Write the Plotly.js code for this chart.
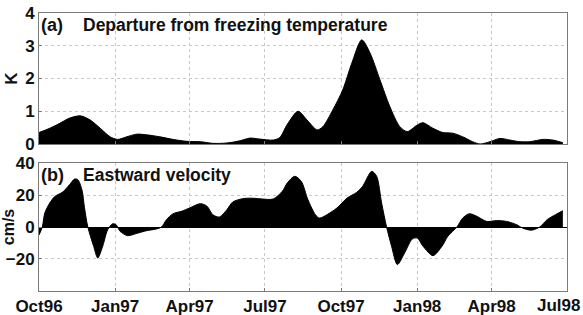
<!DOCTYPE html>
<html><head><meta charset="utf-8">
<script src="https://cdn.plot.ly/plotly-3.0.1.min.js"></script>
<style>html,body{margin:0;padding:0;background:#fff;}#chart{width:583px;height:315px;}</style>
</head><body><div id="chart"></div>
<script>
// Panel (a): departure from freezing temperature (K)
const tempDates = ['1996-10-01','1996-10-14','1996-10-26','1996-11-07','1996-11-20','1996-12-02','1996-12-14','1996-12-26',
 '1997-01-04','1997-01-15','1997-01-27','1997-02-08','1997-02-24','1997-03-12','1997-03-29','1997-04-14','1997-04-29',
 '1997-05-16','1997-06-01','1997-06-13','1997-06-25','1997-07-11','1997-07-19','1997-07-28','1997-08-10','1997-08-21',
 '1997-09-02','1997-09-09','1997-09-21','1997-10-03','1997-10-14','1997-10-26','1997-11-05','1997-11-17','1997-11-29',
 '1997-12-11','1997-12-20','1998-01-01','1998-01-08','1998-01-20','1998-02-01','1998-02-13','1998-02-25','1998-03-09',
 '1998-03-18','1998-03-30','1998-04-11','1998-04-23','1998-05-05','1998-05-17','1998-06-02','1998-06-14','1998-06-26'];
const tempK = [0.35,0.48,0.63,0.79,0.86,0.73,0.48,0.22,
 0.14,0.22,0.30,0.28,0.22,0.14,0.08,0.07,0.02,
 0.03,0.10,0.18,0.15,0.12,0.20,0.60,1.00,0.73,
 0.43,0.53,1.04,1.65,2.47,3.18,2.78,1.96,1.14,
 0.53,0.38,0.58,0.65,0.48,0.35,0.33,0.22,0.07,
 0.00,0.07,0.17,0.12,0.07,0.07,0.14,0.12,0.04];

// Panel (b): eastward velocity (cm/s)
const velDates = ['1996-10-01','1996-10-05','1996-10-08','1996-10-14','1996-10-20','1996-10-30','1996-11-07','1996-11-13',
 '1996-11-17','1996-11-22','1996-11-25','1996-11-29','1996-12-06','1996-12-11','1996-12-17','1996-12-23','1996-12-29',
 '1997-01-02','1997-01-07','1997-01-16','1997-01-27','1997-02-08','1997-02-20','1997-02-26','1997-03-04','1997-03-12',
 '1997-03-22','1997-04-01','1997-04-14','1997-04-22','1997-04-29','1997-05-07','1997-05-16','1997-05-23','1997-06-04',
 '1997-06-16','1997-06-28','1997-07-11','1997-07-22','1997-07-28','1997-08-06','1997-08-14','1997-08-22','1997-08-31',
 '1997-09-05','1997-09-14','1997-09-26','1997-10-08','1997-10-20','1997-10-27','1997-11-07','1997-11-13','1997-11-19',
 '1997-11-25','1997-12-01','1997-12-08','1997-12-17','1997-12-26','1998-01-01','1998-01-08','1998-01-20','1998-01-31',
 '1998-02-07','1998-02-18','1998-02-25','1998-03-05','1998-03-14','1998-03-26','1998-04-07','1998-04-19','1998-05-01',
 '1998-05-08','1998-05-19','1998-05-29','1998-06-07','1998-06-17','1998-06-26'];
const velCms = [-5,0,8.75,15,19,22,26.5,30,
 29.6,23,12,0,-12,-19.4,-12,-1.7,2,
 1.5,-2.7,-5.4,-4,-2.3,-1.2,0,4.6,8.3,
 9.8,11.9,14.6,13,7.7,6.25,10.8,15.6,17.7,
 18,17.5,17.5,22.3,27.5,31.7,28.5,17,7.7,
 5.6,7.7,11.9,18,21.7,25.4,34.8,31.7,15,
 0,-12,-23.5,-16,-7.5,-6.9,-12,-17.9,-12,
 -5.8,0,5.6,8.3,6.7,3.5,4,3.5,1.5,
 -0.6,-2,0,4.6,7.7,10.2];

const xTickVals = ['1996-10-01','1997-01-01','1997-04-01','1997-07-01','1997-10-01','1998-01-01','1998-04-01','1998-07-01'];
const xTickText = ['Oct96','Jan97','Apr97','Jul97','Oct97','Jan98','Apr98','Jul98'];
const tempTicks = [0,1,2,3,4];
const velTicks = [-20,0,20,40];
const panelA = '(a)', titleA = 'Departure from freezing temperature';
const panelB = '(b)', titleB = 'Eastward velocity';

const FONT = 'Liberation Sans, Arial, Helvetica, sans-serif';
const TXT = '#111';
const bold = (s) => ({family:FONT, size:s, color:TXT, weight:'bold'});

const traces = [
 {x: tempDates, y: tempK, type:'scatter', mode:'lines', line:{color:'#000', width:1, shape:'spline', smoothing:0.8},
  fill:'tozeroy', fillcolor:'#000', xaxis:'x', yaxis:'y', hoverinfo:'skip'},
 {x: velDates, y: velCms, type:'scatter', mode:'lines', line:{color:'#000', width:1, shape:'spline', smoothing:0.8},
  fill:'tozeroy', fillcolor:'#000', xaxis:'x2', yaxis:'y2', hoverinfo:'skip'}
];
const axisCommon = {
 showline:true, mirror:true, linecolor:'#7a7a7a', linewidth:1,
 showgrid:true, gridcolor:'#c8c8c8', griddash:'dot', gridwidth:1,
 ticks:'inside', ticklen:3, tickcolor:'#7a7a7a', zeroline:false,
 tickfont:bold(17)
};
// all but the last label are drawn by the axis; the last one sits flush with the page edge
const axisTickText = xTickText.slice(0, -1).concat(['']);
const layout = {
 width:583, height:315, paper_bgcolor:'#fff', plot_bgcolor:'#fff', showlegend:false,
 margin:{l:39, r:16, t:13, b:24},
 font:{family:FONT},
 xaxis: Object.assign({}, axisCommon, {type:'date', range:['1996-10-01','1998-07-01'], domain:[0,1],
   tickvals:xTickVals, ticktext:xTickText, showticklabels:false, anchor:'y'}),
 yaxis: Object.assign({}, axisCommon, {range:[0,4], tickvals:tempTicks, domain:[0.5288,1], anchor:'x',
   title:{text:'K', font:bold(17), standoff:3}}),
 xaxis2: Object.assign({}, axisCommon, {type:'date', range:['1996-10-01','1998-07-01'], domain:[0,1],
   tickvals:xTickVals, ticktext:axisTickText, anchor:'y2'}),
 yaxis2: Object.assign({}, axisCommon, {range:[-40,40], tickvals:velTicks, domain:[0,0.4604], anchor:'x2',
   zeroline:true, zerolinecolor:'#000', zerolinewidth:1,
   title:{text:'cm/s', font:bold(16), standoff:0}}),
 annotations:[
  {text:panelA, xref:'paper', yref:'paper', x:0.0, y:1.0, xanchor:'left', yanchor:'top', showarrow:false, font:bold(18)},
  {text:titleA, xref:'paper', yref:'paper', x:0.08, y:1.0, xanchor:'left', yanchor:'top', showarrow:false, font:bold(17.5)},
  {text:panelB, xref:'paper', yref:'paper', x:0.0, y:0.4604, xanchor:'left', yanchor:'top', showarrow:false, font:bold(18)},
  {text:titleB, xref:'paper', yref:'paper', x:0.08, y:0.4604, xanchor:'left', yanchor:'top', showarrow:false, font:bold(17.5)},
  {text:xTickText[xTickText.length-1], xref:'x2', yref:'paper', x:xTickVals[xTickVals.length-1], y:0,
   xanchor:'right', yanchor:'top', xshift:15, yshift:-3, showarrow:false, font:bold(17)}
 ]
};
Plotly.newPlot('chart', traces, layout, {staticPlot:true, displayModeBar:false});
</script></body></html>
